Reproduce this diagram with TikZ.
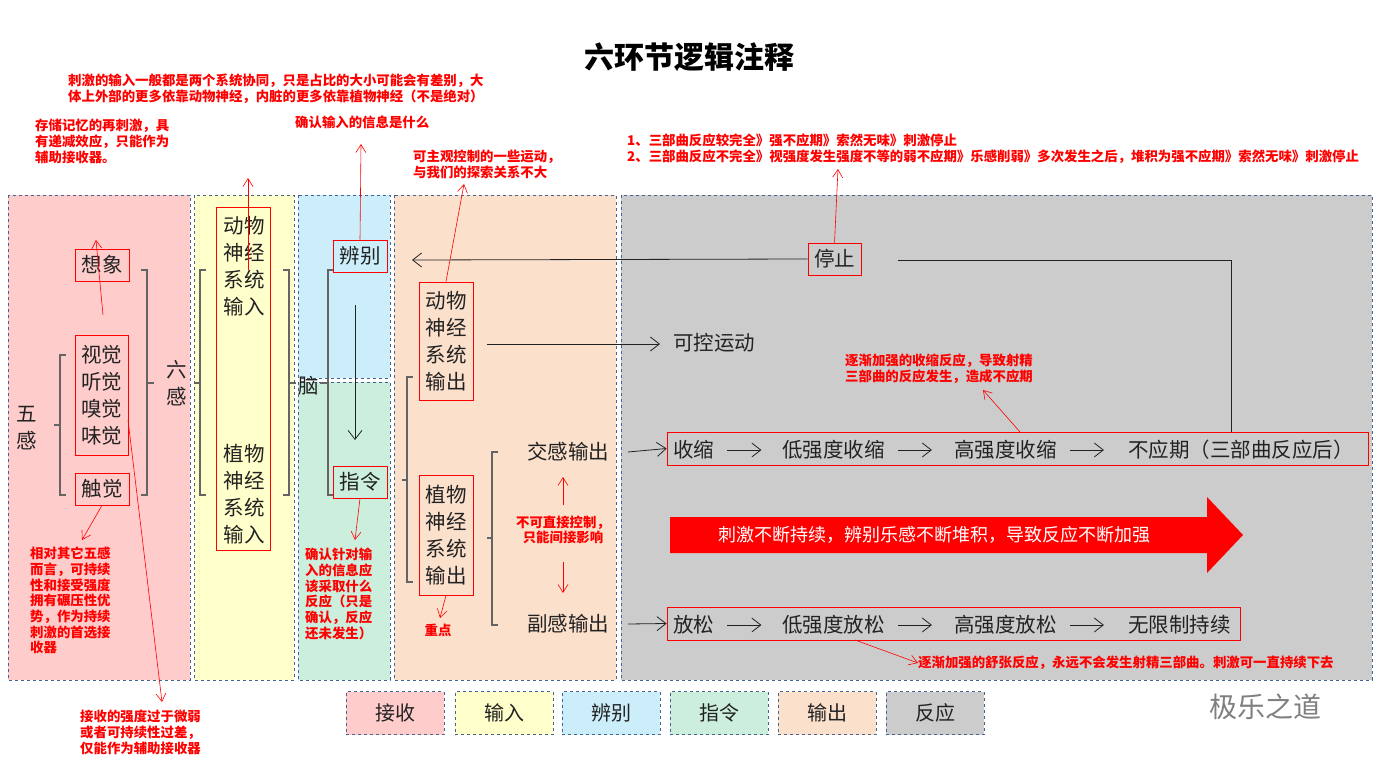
\documentclass[tikz,border=0pt]{standalone}
\usepackage{fontspec}
\setmainfont{Noto Sans CJK SC}
\usetikzlibrary{arrows.meta,shapes.arrows}
\definecolor{pk}{HTML}{FFCCCC}
\definecolor{yl}{HTML}{FFFFCC}
\definecolor{bl}{HTML}{CCEEFA}
\definecolor{gr}{HTML}{CCEEDD}
\definecolor{pc}{HTML}{FBE0CC}
\definecolor{gy}{HTML}{CCCCCC}
\definecolor{bd}{HTML}{44658F}
\definecolor{tx}{HTML}{222222}
\tikzset{
 panel/.style={draw=bd,dashed,line width=0.8pt},
 rbox/.style={draw=red,line width=0.8pt,inner sep=2pt,font=\fontsize{20.5}{27}\selectfont,text=tx,align=center},
 big/.style={font=\fontsize{20.5}{27}\selectfont,text=tx,align=center,inner sep=1pt},
 note/.style={text=red,font=\fontsize{13.4}{15.7}\selectfont\bfseries,align=left,inner sep=0pt},
 ra/.style={red,line width=0.6pt,-{Straight Barb[length=8pt,width=10pt]}},
 ka/.style={tx,line width=0.8pt,-{Straight Barb[length=9pt,width=14pt]}},
 brk/.style={tx!70,line width=1.2pt},
 leg/.style={panel,minimum width=98pt,minimum height=43pt,font=\fontsize{20}{22}\selectfont,text=tx}
}
\begin{document}
\begin{tikzpicture}[x=1pt,y=-1pt]
\useasboundingbox[fill=white] (0,0) rectangle (1378,767);
% panels
\fill[pk] (8,195) rectangle (190,680); \draw[panel] (8,195) rectangle (190,680);
\fill[yl] (194,195) rectangle (294,680); \draw[panel] (194,195) rectangle (294,680);
\fill[bl] (298,195) rectangle (390,378); \draw[panel] (298,195) rectangle (390,378);
\fill[gr] (298,382) rectangle (390,680); \draw[panel] (298,382) rectangle (390,680);
\fill[pc] (394,195) rectangle (616,680); \draw[panel] (394,195) rectangle (616,680);
\fill[gy] (621,195) rectangle (1372,680); \draw[panel] (621,195) rectangle (1372,680);
% title
\node[font=\fontsize{30}{32}\selectfont\bfseries] (title) at (689,57) {六环节逻辑注释};
% legend
\node[leg,fill=pk] (l1) at (395,713) {接收};
\node[leg,fill=yl] (l2) at (504,713) {输入};
\node[leg,fill=bl] (l3) at (611,713) {辨别};
\node[leg,fill=gr] (l4) at (719,713) {指令};
\node[leg,fill=pc] (l5) at (827,713) {输出};
\node[leg,fill=gy] (l6) at (935,713) {反应};
% receive column
\node[rbox,minimum width=54pt,minimum height=32pt,inner sep=0pt] (xx) at (102,265) {想象};
\node[rbox,minimum width=53pt,minimum height=120pt,inner sep=0pt] (sj) at (101.5,395) {视觉\\听觉\\嗅觉\\味觉};
\node[rbox,minimum width=54pt,minimum height=32pt,inner sep=0pt] (cj) at (102,489) {触觉};
\node[big] (wg) at (27,428) {五\\感};
\draw[brk] (66,355) -- (60,355) -- (60,495) -- (66,495) (60,425) -- (54,425);
\draw[brk] (141,270) -- (147,270) -- (147,495) -- (141,495) (147,383) -- (154,383);
\node[big] (lg) at (177,383) {六\\感};
% input column
\node[draw=red,line width=0.8pt,minimum width=54pt,minimum height=343pt,inner sep=0pt] (inbox) at (243,378.5) {};
\node[big] (dwi) at (244,266) {动物\\神经\\系统\\输入};
\node[big] (zwi) at (244,494) {植物\\神经\\系统\\输入};
\draw[brk] (206,270) -- (200,270) -- (200,495) -- (206,495) (200,383) -- (194,383);
\draw[brk] (283,270) -- (289,270) -- (289,495) -- (283,495) (289,383) -- (296,383);
\node[big] (nao) at (309,386) {脑};
% brain
\draw[brk] (335,270) -- (328,270) -- (328,495) -- (335,495) (328,383) -- (320,383);
\node[rbox,minimum width=54pt,minimum height=32pt,inner sep=0pt,fill=bl] (bb) at (360,256) {辨别};
\node[rbox,minimum width=54pt,minimum height=32pt,inner sep=0pt,fill=gr] (zl) at (360,482) {指令};
\coordinate (ds) at (355,305);
\coordinate (de) at (355,440);
\draw[ka] (ds) -- (de);
% output
\node[rbox,minimum width=54pt,minimum height=118pt,inner sep=0pt] (dwo) at (446,341) {动物\\神经\\系统\\输出};
\node[rbox,minimum width=54pt,minimum height=120pt,inner sep=0pt] (zwo) at (446,535) {植物\\神经\\系统\\输出};
\draw[brk] (413,377) -- (407,377) -- (407,582) -- (413,582) (407,480) -- (402,480);
\draw[brk] (498,452) -- (492,452) -- (492,625) -- (498,625) (492,538) -- (487,538);
\node[big] (jg) at (568,452) {交感输出};
\node[big] (fg) at (568,624) {副感输出};
\node[big,anchor=west] (kk) at (672,343) {可控运动};
\coordinate (k0) at (487,344);
\draw[ka] (k0) -- (660,344);
% reaction rows
\node[draw=red,line width=0.8pt,minimum width=701pt,minimum height=33pt,inner sep=0pt] (ss) at (1017.5,448.5) {};
\node[big,anchor=west] (s1) at (672,450) {收缩};
\node[big,anchor=west] (s2) at (781,450) {低强度收缩};
\node[big,anchor=west] (s3) at (953,450) {高强度收缩};
\node[big,anchor=west] (s4) at (1127,450) {不应期（三部曲反应后）};
\draw[ka] (s1.east) ++(12,0) -- ++(34,0);
\draw[ka] (s2.east) ++(12,0) -- ++(34,0);
\draw[ka] (s3.east) ++(12,0) -- ++(34,0);
\node[draw=red,line width=0.8pt,minimum width=573pt,minimum height=33pt,inner sep=0pt] (fs) at (953.5,623.5) {};
\node[big,anchor=west] (f1) at (672,625) {放松};
\node[big,anchor=west] (f2) at (781,625) {低强度放松};
\node[big,anchor=west] (f3) at (953,625) {高强度放松};
\node[big,anchor=west] (f4) at (1127,625) {无限制持续};
\draw[ka] (f1.east) ++(12,0) -- ++(34,0);
\draw[ka] (f2.east) ++(12,0) -- ++(34,0);
\draw[ka] (f3.east) ++(12,0) -- ++(34,0);
\coordinate (ja) at (628,452);
\coordinate (fa) at (628,624);
\draw[ka] (ja) -- (ss.west);
\draw[ka] (fa) -- (fs.west);
\node[rbox,minimum width=53pt,minimum height=32pt,inner sep=0pt] (tz) at (834.5,259) {停止};
\coordinate (c1) at (1231,432);
\coordinate (c2) at (1231,260);
\coordinate (c3) at (898,260);
\draw[tx,line width=0.8pt] (c1) -- (c2) -- (c3);
\coordinate (bt) at (412,260);
\draw[ka] (tz.west) -- (bt);
% big arrow
\fill[red] (670,517) -- (1207,517) -- (1207,497) -- (1243,535) -- (1207,573) -- (1207,553) -- (670,553) -- cycle;
\node[font=\fontsize{18}{20}\selectfont,text=white] (ba) at (934,535) {刺激不断持续，辨别乐感不断堆积，导致反应不断加强};
% notes
\node[note,anchor=north west] (n1) at (68,74) {刺激的输入一般都是两个系统协同，只是占比的大小可能会有差别，大\\体上外部的更多依靠动物神经，内脏的更多依靠植物神经（不是绝对）};
\draw[ra] (248,270) -- (248,178);
\node[note,anchor=north west] (n2) at (35,119) {存储记忆的再刺激，具\\有递减效应，只能作为\\辅助接收器。};
\draw[ra] (103,315) -- (96,240);
\node[note,anchor=north west] (n3) at (295,116) {确认输入的信息是什么};
\draw[ra] (bb.north) -- (361,144);
\node[note,anchor=north west] (n4) at (413,150) {可主观控制的一些运动，\\与我们的探索关系不大};
\draw[ra] (dwo.north) -- (464,184);
\node[note,anchor=north west] (n5) at (627,134) {1、三部曲反应较完全》强不应期》索然无味》刺激停止\\2、三部曲反应不完全》视强度发生强度不等的弱不应期》乐感削弱》多次发生之后，堆积为强不应期》索然无味》刺激停止};
\draw[ra] (tz.north) -- (838,169);
\node[note,anchor=north west] (n6) at (845,354) {逐渐加强的收缩反应，导致射精\\三部曲的反应发生，造成不应期};
\draw[ra] (1020,432) -- (983,390);
\node[note,anchor=west] (n7) at (918,663) {逐渐加强的舒张反应，永远不会发生射精三部曲。刺激可一直持续下去};
\draw[ra] (855,640) -- (n7.west);
\node[note,anchor=north west] (n8) at (30,547) {相对其它五感\\而言，可持续\\性和接受强度\\拥有碾压性优\\势，作为持续\\刺激的首选接\\收器};
\draw[ra] (cj.south) -- (82,540);
\node[note,anchor=north west] (n9) at (305,548) {确认针对输\\入的信息应\\该采取什么\\反应（只是\\确认，反应\\还未发生）};
\draw[ra] (zl.south) -- (355,540);
\node[note,anchor=north west] (n10) at (80,710) {接收的强度过于微弱\\或者可持续性过差，\\仅能作为辅助接收器};
\draw[ra] (128,420) -- (162,702);
\node[note] (n11) at (438,630) {重点};
\draw[ra] (zwo.south) -- (440,618);
\node[note,align=center] (n12) at (563,530) {不可直接控制，\\只能间接影响};
\draw[ra] (563,505) -- (563,477);
\draw[ra] (563,562) -- (563,593);
% watermark
\node[font=\fontsize{28}{30}\selectfont,text=gray] (wm) at (1265,707) {极乐之道};
\end{tikzpicture}
\end{document}
